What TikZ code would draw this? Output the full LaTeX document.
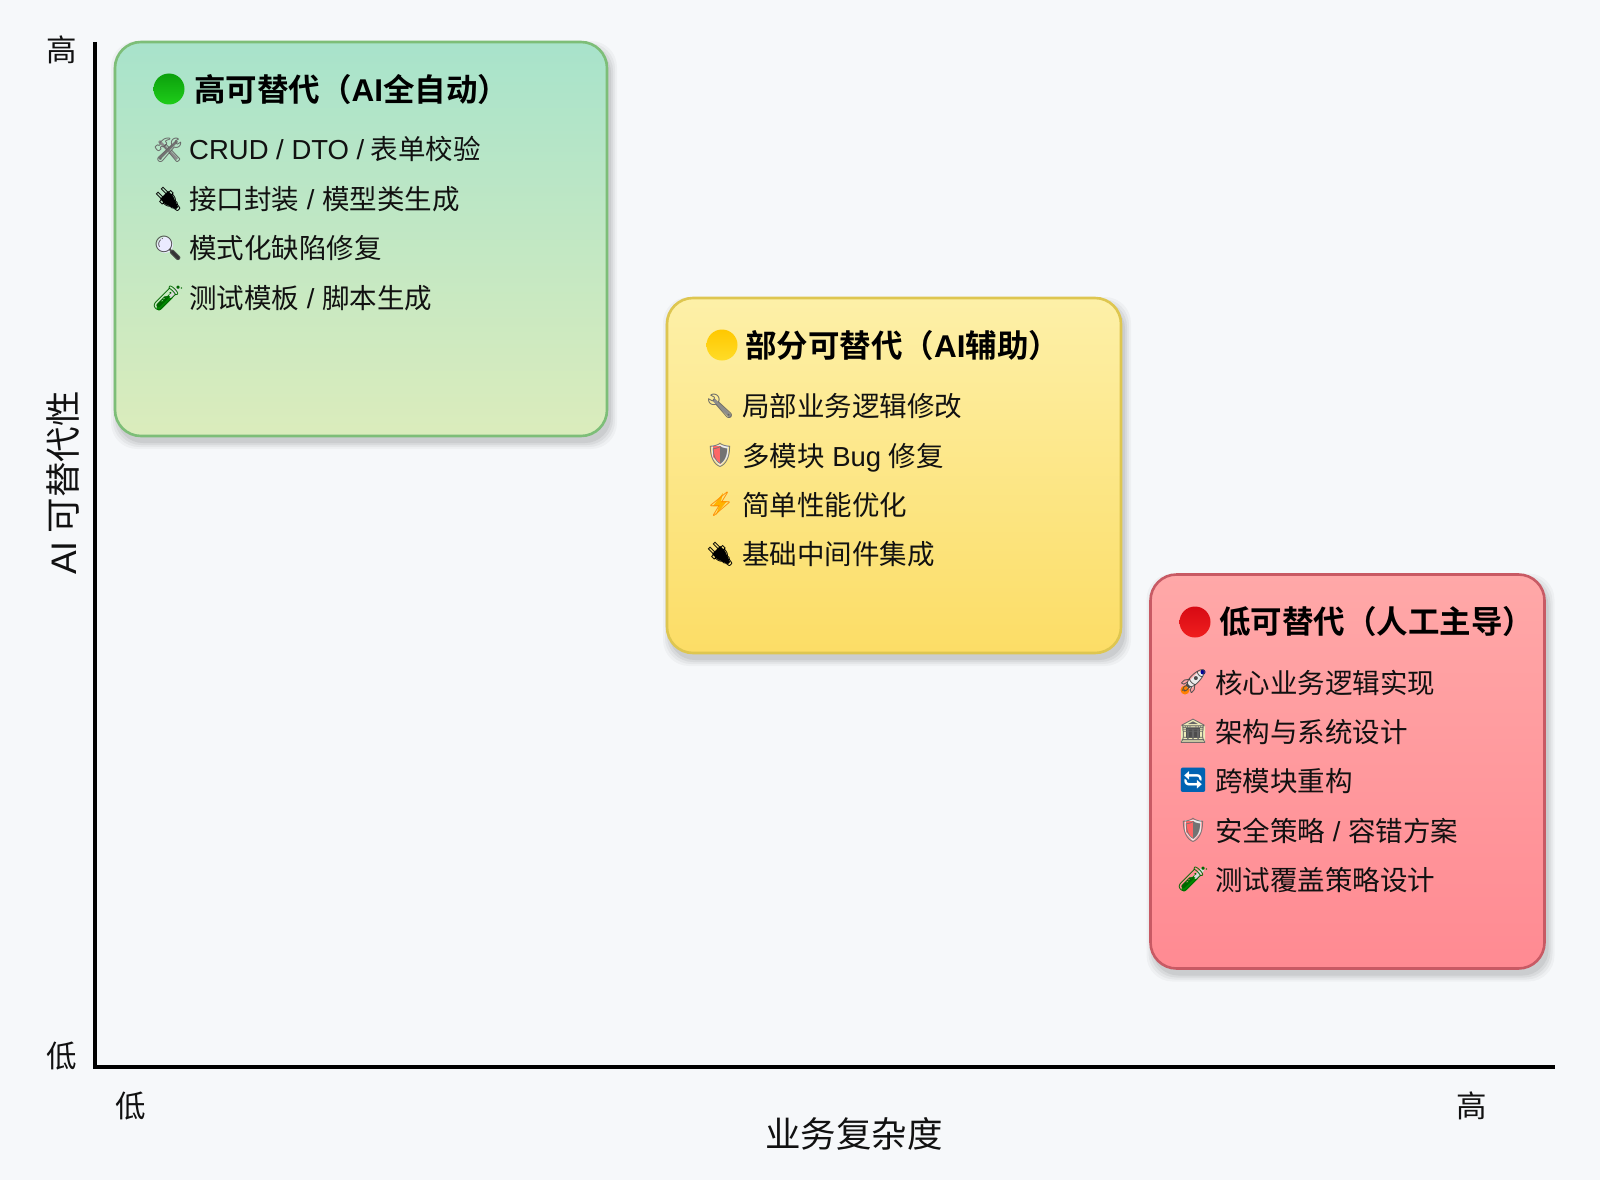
\documentclass[tikz,border=0pt]{standalone}
\usepackage{fontspec}
\setmainfont{Noto Sans CJK SC}[BoldFont={Noto Sans CJK SC Bold}]
\newfontfamily\latf{Liberation Sans}
\newfontfamily\emo{Noto Emoji}
\newcommand{\lat}[1]{{\latf #1}}
\usetikzlibrary{shadings}
\definecolor{bgc}{HTML}{F6F8FA}
\definecolor{ink}{HTML}{111111}
\tikzset{
  x=1pt,y=-1pt,
  softshadow/.style={draw=none,fill=black,rounded corners=26pt},
  panel/.style={line width=2.6pt,rounded corners=26pt},
  ptitle/.style={anchor=base west,inner sep=0pt,font=\fontsize{31.5}{34}\selectfont\bfseries,text=black},
  item/.style={anchor=base west,inner sep=0pt,font=\fontsize{27.5}{30}\selectfont,text=ink},
  icon/.style={anchor=center,inner sep=0pt,font=\fontsize{24}{26}\selectfont\emo},
  ball/.style={circle,minimum size=31pt,inner sep=0pt},
  axislabel/.style={anchor=center,inner sep=0pt,font=\fontsize{35.5}{38}\selectfont,text=ink},
  tick/.style={anchor=center,inner sep=0pt,font=\fontsize{30.5}{32}\selectfont,text=ink},
  axisline/.style={line width=3.2pt,black},
  plugback/.pic={\fill[black] (-8,0) -- (0,-8) -- (5,-3) -- (10,8) -- (8,10) -- (-3,5) -- cycle;},
  lensback/.pic={\draw[line width=4pt,black!80,line cap=round] (4,4) -- (10,10);
                 \fill[white!92!blue] (-3,-3) circle (8);},
  tubeback/.pic={\draw[line width=5pt,green!55!black,line cap=round] (-9,10) -- (3,-2);
                 \draw[line width=4pt,black!15,line cap=round] (3,-2) -- (9,-9);},
  toolback/.pic={\draw[line width=2.6pt,black!45] (-9,-9) -- (9,9);
                 \draw[line width=2.6pt,black!55] (9,-9) -- (-9,9);},
  wrenchback/.pic={\draw[line width=3.5pt,black!45,line cap=round] (-6,-6) -- (10,10);},
  shieldback/.pic={\fill[black!8] (-8,-10) -- (8,-10) -- (8,2) -- (0,11) -- (-8,2) -- cycle;
                 \fill[red!60] (-7,-9) -- (1,-9) -- (1,9) -- (-7,2) -- cycle;},
  boltback/.pic={\fill[orange!60!yellow] (3,-11) -- (-7,2) -- (-1,2) -- (-4,11) -- (7,-3) -- (1,-3) -- cycle;},
  rocketback/.pic={\fill[orange] (-8,8) circle (4.5);
                 \draw[line width=7pt,white!92!black,line cap=round] (-3,3) -- (7,-7);
                 \fill[blue!60!black] (10,-10) circle (2.5);},
  bankback/.pic={\fill[black!25!yellow!30!white] (0,-12) -- (12,-5) -- (12,11) -- (-12,11) -- (-12,-5) -- cycle;
                 \fill[black!70] (-7,-3) rectangle (7,7);},
  refreshback/.pic={\fill[white,rounded corners=3pt] (-11,-11) rectangle (11,11);},
}
\newcommand{\softbox}[4]{%
  \foreach \g/\o in {7/0.03,5/0.04,3/0.05,1/0.06}{
    \fill[softshadow,opacity=\o] (#1-\g+3,#2-\g+6) rectangle (#3+\g+3,#4+\g+6);
  }}
\begin{document}
\begin{tikzpicture}
\useasboundingbox (0,0) rectangle (1600,1180);
\fill[bgc] (0,0) rectangle (1600,1180);

% axes
\coordinate (ytop) at (95,42);
\coordinate (origin) at (95,1067);
\coordinate (xend) at (1554.5,1067);
\draw[axisline] (ytop) -- (origin) -- (xend);
\node[tick] (ytickhigh) at (62,50) {高};
\node[tick] (yticklow) at (61.5,1056) {低};
\node[tick] (xticklow) at (130.5,1105.5) {低};
\node[tick] (xtickhigh) at (1472,1105.5) {高};
\node[axislabel,rotate=90] (ylabel) at (63,483) {\lat{AI} 可替代性};
\node[axislabel] (xlabel) at (854,1133.5) {业务复杂度};

% green
\softbox{115}{42}{607}{436}
\path[panel,draw={rgb,255:red,125;green,190;blue,120},top color={rgb,255:red,168;green,227;blue,203},bottom color={rgb,255:red,219;green,236;blue,188}] (115,42) rectangle (607,436);
\node[ball,top color={rgb,255:red,12;green,160;blue,12},bottom color={rgb,255:red,30;green,205;blue,25}] (gball) at (169,89) {};
\node[ptitle] (gtitle) at (194,101.5) {高可替代（\lat{\bfseries AI}全自动）};
\pic at (168,150) {toolback};
\node[icon,text=black!60] (gi1) at (168,150) {🛠};
\node[item] (g1) at (189,160) {\lat{CRUD / DTO /} 表单校验};
\pic at (168,199) {plugback};
\node[icon,text=black] (gi2) at (168,199) {🔌};
\node[item] (g2) at (189,209.5) {接口封装\lat{ / }模型类生成};
\pic at (168,248) {lensback};
\node[icon,text=black!70] (gi3) at (168,248) {🔍};
\node[item] (g3) at (189,258.8) {模式化缺陷修复};
\pic at (168,298) {tubeback};
\node[icon,text=green!40!black] (gi4) at (168,298) {🧪};
\node[item] (g4) at (189,308) {测试模板\lat{ / }脚本生成};

% yellow
\softbox{667}{298}{1121}{653}
\path[panel,draw={rgb,255:red,222;green,198;blue,80},top color={rgb,255:red,253;green,240;blue,168},bottom color={rgb,255:red,252;green,221;blue,102}] (667,298) rectangle (1121,653);
\node[ball,top color={rgb,255:red,255;green,200;blue,0},bottom color={rgb,255:red,255;green,220;blue,40}] (yball) at (722,345) {};
\node[ptitle] (ytitle) at (745,357.5) {部分可替代（\lat{\bfseries AI}辅助）};
\pic at (720,406) {wrenchback};
\node[icon,text=black!60] (yi1) at (720,406) {🔧};
\node[item] (y1) at (742,416.8) {局部业务逻辑修改};
\pic at (720,455) {shieldback};
\node[icon,text=black!55] (yi2) at (720,455) {🛡};
\node[item] (y2) at (742,466) {多模块\lat{ Bug }修复};
\pic at (720,504) {boltback};
\node[icon,text=orange!90!yellow] (yi3) at (720,504) {⚡};
\node[item] (y3) at (742,515) {简单性能优化};
\pic at (720,554) {plugback};
\node[icon,text=black] (yi4) at (720,554) {🔌};
\node[item] (y4) at (742,564.5) {基础中间件集成};

% red
\softbox{1150.5}{574.5}{1544.5}{968.5}
\path[panel,draw={rgb,255:red,200;green,90;blue,100},top color={rgb,255:red,255;green,168;blue,168},bottom color={rgb,255:red,255;green,138;blue,146}] (1150.5,574.5) rectangle (1544.5,968.5);
\node[ball,top color={rgb,255:red,215;green,10;blue,20},bottom color={rgb,255:red,240;green,30;blue,30}] (rball) at (1195,622) {};
\node[ptitle] (rtitle) at (1219,633.5) {低可替代（人工主导）};
\pic at (1193,682) {rocketback};
\node[icon,text=black!70] (ri1) at (1193,682) {🚀};
\node[item] (r1) at (1215,693) {核心业务逻辑实现};
\pic at (1193,731) {bankback};
\node[icon,text=black!60] (ri2) at (1193,731) {🏛};
\node[item] (r2) at (1215,742) {架构与系统设计};
\pic at (1193,780) {refreshback};
\node[icon,text=blue!45!cyan!70!black] (ri3) at (1193,780) {🔄};
\node[item] (r3) at (1215,791) {跨模块重构};
\pic at (1193,830) {shieldback};
\node[icon,text=black!55] (ri4) at (1193,830) {🛡};
\node[item] (r4) at (1215,841) {安全策略\lat{ / }容错方案};
\pic at (1193,879) {tubeback};
\node[icon,text=green!40!black] (ri5) at (1193,879) {🧪};
\node[item] (r5) at (1215,890) {测试覆盖策略设计};
\end{tikzpicture}
\end{document}
